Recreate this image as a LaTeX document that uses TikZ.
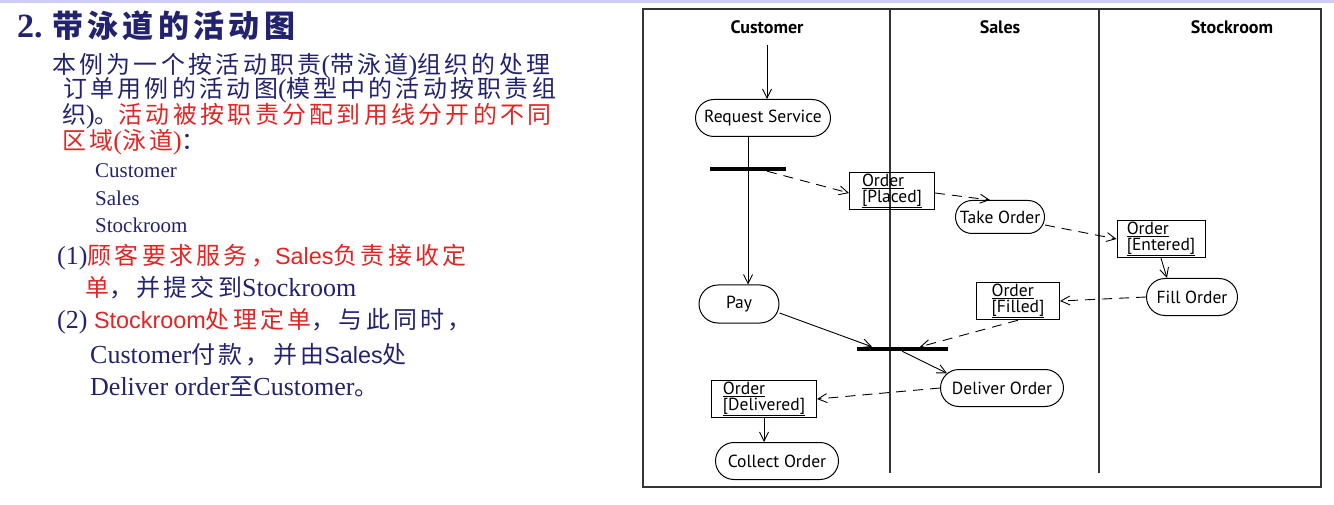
\documentclass[tikz,border=0pt]{standalone}
\usepackage{fontspec}
\setmainfont{Liberation Serif}
\newfontfamily\cjk{Noto Sans CJK SC}[Scale=0.92, LetterSpace=14]
\newfontfamily\cjkttl{Noto Sans CJK SC}[LetterSpace=14]
\newfontfamily\arial{Liberation Sans}[Scale=0.9]
\newfontfamily\uml{PT Sans}
\usetikzlibrary{arrows.meta,shapes.misc}
\definecolor{navy}{RGB}{34,34,110}
\definecolor{slred}{RGB}{228,35,35}
\definecolor{lavender}{RGB}{205,205,245}
\newcommand{\zh}[1]{{\cjk #1}}
\begin{document}
\begin{tikzpicture}
    [
      x=1pt, y=-1pt,
      txt/.style={anchor=base west, inner sep=0pt, text=navy, font=\fontsize{26}{26}\selectfont},
      lane/.style={line width=1.3pt, black!80},
      lanehead/.style={font=\uml\bfseries\fontsize{18}{18}\selectfont},
      act/.style={draw, rounded rectangle, line width=1pt, minimum height=37pt, inner xsep=4pt, font=\uml\fontsize{17.5}{17.5}\selectfont},
      obj/.style={draw, rectangle, line width=1pt, minimum height=37pt, inner sep=1.5pt, align=left, font=\uml\fontsize{17.5}{16}\selectfont},
      bar/.style={fill=black, minimum height=4pt, inner sep=0pt},
      flow/.style={-{Straight Barb[length=9pt,width=9pt]}, line width=0.9pt},
      objflow/.style={flow, dash pattern=on 10pt off 7pt},
    ]
    \useasboundingbox (0,0) rectangle (1334,505);
    \fill [lavender] (0,0) rectangle (1334,3.5);

    % title and text
    \node (ttlnum) [txt, font=\fontsize{34}{34}\selectfont\bfseries] at (17,38) {2.};
    \node (ttl) [txt, font=\cjkttl\fontsize{31}{31}\selectfont\bfseries] at (52,38) {带泳道的活动图};
    \node (par1) [txt] at (52,74) {\zh{本例为一个按活动职责}(\zh{带泳道})\zh{组织的处理}};
    \node (par2) [txt] at (63,98) {\zh{订单用例的活动图}(\zh{模型中的活动按职责组}};
    \node (par3) [txt] at (62,124) {\zh{织})\zh{。}{\color{slred}\zh{活动被按职责分配到用线分开的不同}}};
    \node (par4) [txt] at (62,150) {{\color{slred}\zh{区域}(\zh{泳道})}\zh{：}};
    \foreach \n/\y/\s in {lcust/178/Customer, lsales/206/Sales, lstock/233/Stockroom}
      \node (\n) [txt, font=\fontsize{21}{21}\selectfont] at (95,\y) {\s};
    \node (step1a) [txt] at (57,265) {(1){\color{slred}\zh{顾客要求服务，}{\arial Sales}\zh{负责接收定}}};
    \node (step1b) [txt] at (85,297) {{\color{slred}\zh{单}}\zh{，并提交到}Stockroom};
    \node (step2a) [txt] at (57,328) {(2) {\color{slred}{\arial Stockroom}\zh{处理定单}}\zh{，与此同时，}};
    \node (step2b) [txt] at (90,363) {Customer\zh{付款，并由}{\arial Sales}\zh{处}};
    \node (step2c) [txt] at (90,395) {Deliver order\zh{至}Customer\zh{。}};

    % swimlanes
    \draw [lane] (643,9) rectangle (1321,487);
    \draw [lane] (890,9) -- (890,473);
    \draw [lane] (1099,9) -- (1099,473);
    \node (hcust) [lanehead] at (767,27) {Customer};
    \node (hsales) [lanehead] at (1000,27) {Sales};
    \node (hstock) [lanehead] at (1232,27) {Stockroom};

    % activities
    \node (req) [act, minimum width=143pt] at (763,118) {Request Service};
    \node (take) [act, minimum width=97pt, minimum height=33pt] at (1000,217) {Take Order};
    \node (fill) [act, minimum width=99pt] at (1192,297) {Fill Order};
    \node (pay) [act, minimum width=88pt, minimum height=38pt] at (739,304) {Pay};
    \node (deliver) [act, minimum width=131pt] at (1002,388) {Deliver Order};
    \node (collect) [act, minimum width=131pt] at (777,461) {Collect Order};

    % objects
    \node (placed) [obj, minimum width=85pt] at (892,191) {\underline{Order}\\\underline{[Placed]}};
    \node (entered) [obj, minimum width=88pt] at (1161,239) {\underline{Order}\\\underline{[Entered]}};
    \node (filled) [obj, minimum width=83pt, minimum height=34pt] at (1018,301) {\underline{Order}\\\underline{[Filled]}};
    \node (delivered) [obj, minimum width=105pt] at (764,399) {\underline{Order}\\\underline{[Delivered]}};

    % fork and join
    \node (fork) [bar, minimum width=76pt] at (748,169) {};
    \node (join) [bar, minimum width=91pt] at (902,349) {};

    % flows
    \coordinate (start) at (767,45);
    \draw [flow] (start) -- (start |- req.north);
    \draw [line width=0.9pt] (req.south -| fork) -- (fork);
    \draw [flow] (fork) -- (fork |- pay.north);
    \draw [objflow] ([xshift=19pt]fork.south) -- ([yshift=-2pt]placed.west);
    \draw [objflow] ([yshift=-2pt]placed.east) -- ([xshift=-10pt]take.north);
    \draw [objflow] ([yshift=-8pt]take.east) -- (entered.west);
    \draw [flow] (entered.south) -- ([xshift=-25pt]fill.north);
    \draw [objflow] (fill.west) -- (filled.east);
    \draw [objflow] (filled.south) -- ([xshift=18pt]join.north);
    \draw [flow] ([yshift=-9pt]pay.east) -- ([xshift=-30pt]join.north);
    \draw [flow] (join.south) -- (deliver.165);
    \draw [objflow] (deliver.west) -- (delivered.east);
    \draw [flow] (delivered.south) -- (delivered.south |- collect.north);
\end{tikzpicture}
\end{document}
